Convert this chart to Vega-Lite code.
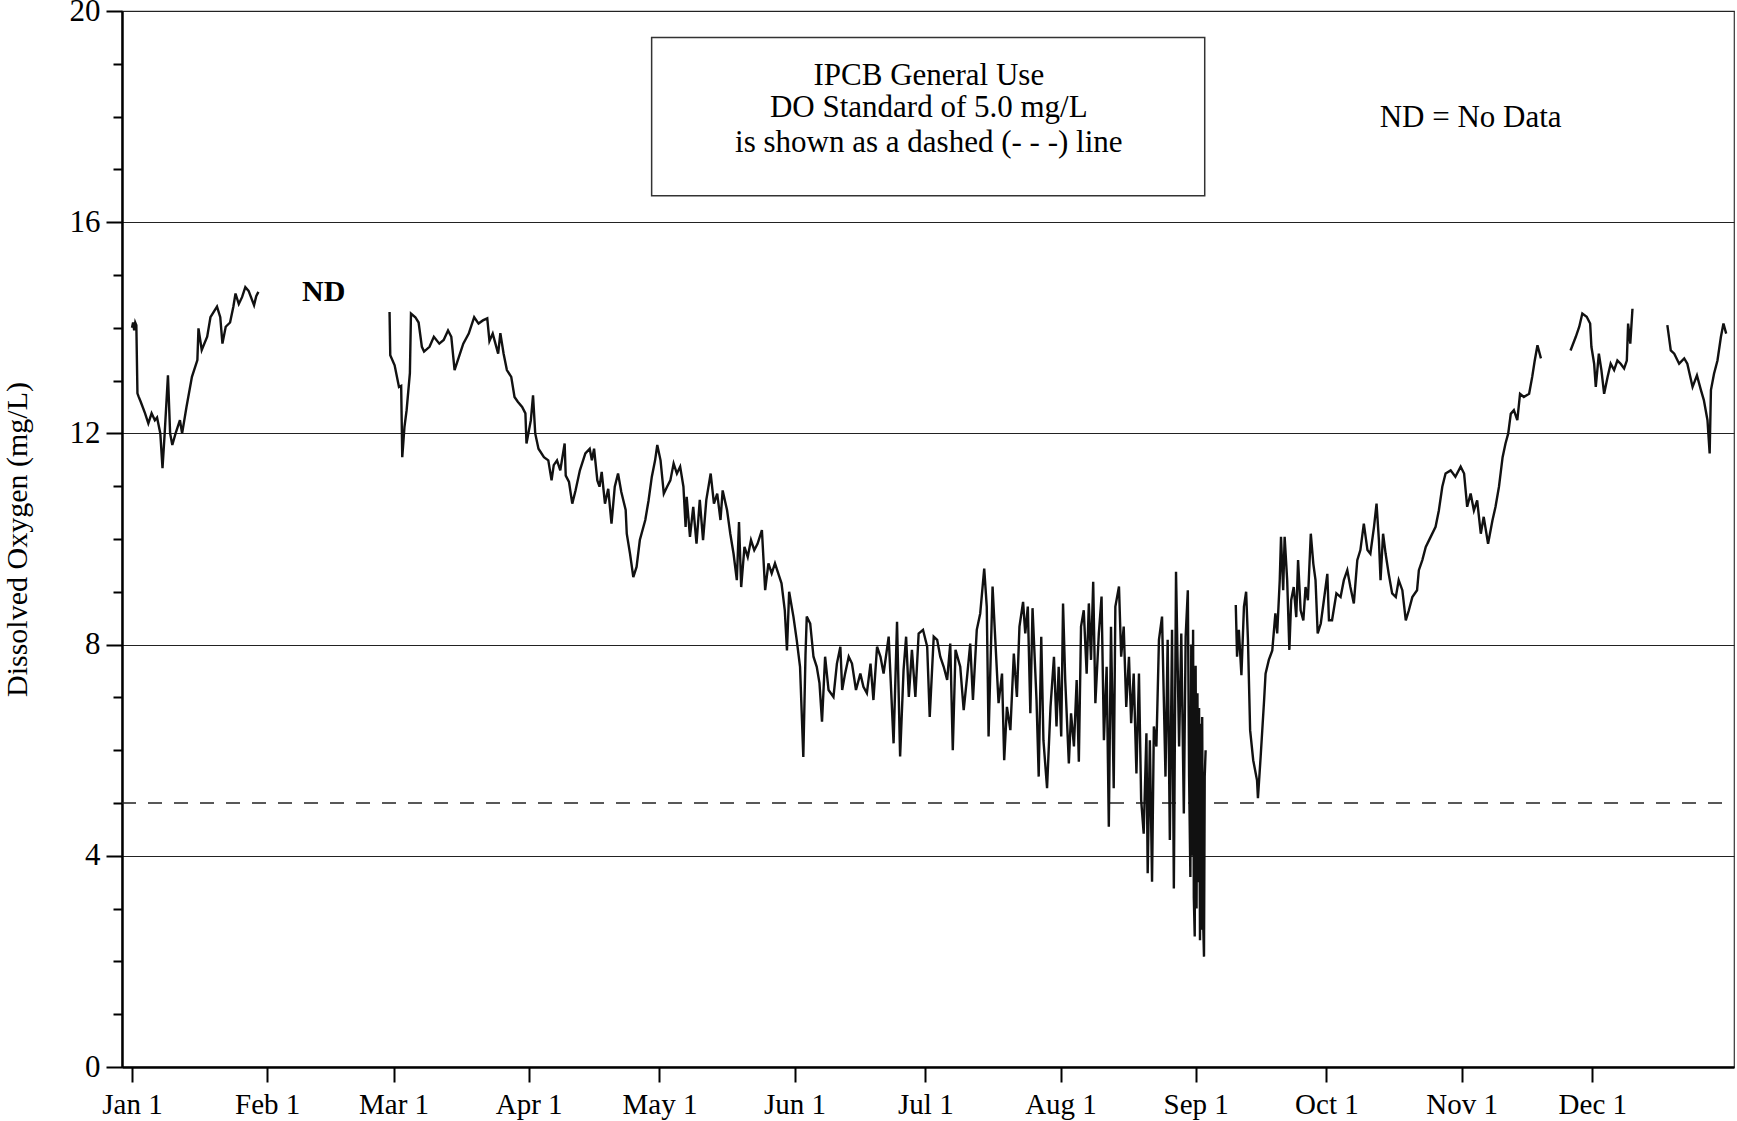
{
  "$schema": "https://vega.github.io/schema/vega-lite/v6.json",
  "width": 1612,
  "height": 1056,
  "autosize": {"type": "none"},
  "padding": {"left": 122, "top": 11, "right": 3, "bottom": 54},
  "background": "white",
  "config": {"view": {"stroke": "#333", "strokeWidth": 1.2}},
  "datasets": {
    "series": [
      {"t":"2008-01-01T00:00Z","v":14.0,"s":1},{"t":"2008-01-01T06:00Z","v":14.1,"s":1},{"t":"2008-01-01T12:00Z","v":13.95,"s":1},{"t":"2008-01-01T18:00Z","v":14.1,"s":1},{"t":"2008-01-02T00:00Z","v":14.05,"s":1},{"t":"2008-01-02T06:00Z","v":12.76,"s":1},{"t":"2008-01-02T12:00Z","v":12.7,"s":1},{"t":"2008-01-03T00:00Z","v":12.6,"s":1},{"t":"2008-01-04T00:00Z","v":12.38,"s":1},{"t":"2008-01-04T18:00Z","v":12.19,"s":1},{"t":"2008-01-05T12:00Z","v":12.38,"s":1},{"t":"2008-01-06T06:00Z","v":12.25,"s":1},{"t":"2008-01-06T18:00Z","v":12.3,"s":1},{"t":"2008-01-07T12:00Z","v":12.0,"s":1},{"t":"2008-01-08T00:00Z","v":11.34,"s":1},{"t":"2008-01-08T12:00Z","v":12.0,"s":1},{"t":"2008-01-09T06:00Z","v":13.1,"s":1},{"t":"2008-01-09T18:00Z","v":12.0,"s":1},{"t":"2008-01-10T06:00Z","v":11.78,"s":1},{"t":"2008-01-11T00:00Z","v":12.0,"s":1},{"t":"2008-01-12T00:00Z","v":12.25,"s":1},{"t":"2008-01-12T12:00Z","v":12.0,"s":1},{"t":"2008-01-13T12:00Z","v":12.5,"s":1},{"t":"2008-01-14T18:00Z","v":13.07,"s":1},{"t":"2008-01-16T00:00Z","v":13.39,"s":1},{"t":"2008-01-16T06:00Z","v":13.99,"s":1},{"t":"2008-01-17T00:00Z","v":13.58,"s":1},{"t":"2008-01-18T06:00Z","v":13.83,"s":1},{"t":"2008-01-19T00:00Z","v":14.2,"s":1},{"t":"2008-01-19T12:00Z","v":14.27,"s":1},{"t":"2008-01-20T12:00Z","v":14.4,"s":1},{"t":"2008-01-21T06:00Z","v":14.2,"s":1},{"t":"2008-01-21T18:00Z","v":13.7,"s":1},{"t":"2008-01-22T12:00Z","v":14.02,"s":1},{"t":"2008-01-23T12:00Z","v":14.1,"s":1},{"t":"2008-01-24T06:00Z","v":14.4,"s":1},{"t":"2008-01-24T18:00Z","v":14.65,"s":1},{"t":"2008-01-25T12:00Z","v":14.45,"s":1},{"t":"2008-01-26T06:00Z","v":14.58,"s":1},{"t":"2008-01-27T00:00Z","v":14.77,"s":1},{"t":"2008-01-27T18:00Z","v":14.7,"s":1},{"t":"2008-01-29T00:00Z","v":14.43,"s":1},{"t":"2008-01-29T12:00Z","v":14.6,"s":1},{"t":"2008-01-30T00:00Z","v":14.68,"s":1},

      {"t":"2008-02-29T02:00Z","v":14.3,"s":2},{"t":"2008-02-29T06:00Z","v":13.48,"s":2},{"t":"2008-03-01T06:00Z","v":13.29,"s":2},{"t":"2008-03-02T06:00Z","v":12.88,"s":2},{"t":"2008-03-02T18:00Z","v":12.9,"s":2},{"t":"2008-03-03T00:00Z","v":11.55,"s":2},{"t":"2008-03-03T12:00Z","v":12.12,"s":2},{"t":"2008-03-04T00:00Z","v":12.44,"s":2},{"t":"2008-03-04T18:00Z","v":13.14,"s":2},{"t":"2008-03-05T00:00Z","v":14.27,"s":2},{"t":"2008-03-06T00:00Z","v":14.2,"s":2},{"t":"2008-03-06T18:00Z","v":14.1,"s":2},{"t":"2008-03-07T12:00Z","v":13.64,"s":2},{"t":"2008-03-08T00:00Z","v":13.55,"s":2},{"t":"2008-03-09T06:00Z","v":13.64,"s":2},{"t":"2008-03-10T06:00Z","v":13.83,"s":2},{"t":"2008-03-11T12:00Z","v":13.7,"s":2},{"t":"2008-03-12T12:00Z","v":13.77,"s":2},{"t":"2008-03-13T12:00Z","v":13.95,"s":2},{"t":"2008-03-14T06:00Z","v":13.83,"s":2},{"t":"2008-03-15T00:00Z","v":13.2,"s":2},{"t":"2008-03-16T00:00Z","v":13.45,"s":2},{"t":"2008-03-17T00:00Z","v":13.7,"s":2},{"t":"2008-03-18T06:00Z","v":13.89,"s":2},{"t":"2008-03-19T12:00Z","v":14.2,"s":2},{"t":"2008-03-20T12:00Z","v":14.08,"s":2},{"t":"2008-03-21T12:00Z","v":14.14,"s":2},{"t":"2008-03-22T12:00Z","v":14.18,"s":2},{"t":"2008-03-23T00:00Z","v":13.75,"s":2},{"t":"2008-03-23T18:00Z","v":13.89,"s":2},{"t":"2008-03-25T00:00Z","v":13.51,"s":2},{"t":"2008-03-25T12:00Z","v":13.9,"s":2},{"t":"2008-03-26T06:00Z","v":13.51,"s":2},{"t":"2008-03-27T00:00Z","v":13.2,"s":2},{"t":"2008-03-28T00:00Z","v":13.07,"s":2},{"t":"2008-03-28T18:00Z","v":12.69,"s":2},{"t":"2008-03-29T12:00Z","v":12.6,"s":2},{"t":"2008-03-30T12:00Z","v":12.5,"s":2},{"t":"2008-03-31T06:00Z","v":12.38,"s":2},{"t":"2008-03-31T12:00Z","v":11.81,"s":2},{"t":"2008-04-01T12:00Z","v":12.25,"s":2},{"t":"2008-04-02T00:00Z","v":12.72,"s":2},{"t":"2008-04-02T12:00Z","v":12.0,"s":2},{"t":"2008-04-03T06:00Z","v":11.71,"s":2},{"t":"2008-04-04T12:00Z","v":11.55,"s":2},{"t":"2008-04-05T12:00Z","v":11.49,"s":2},{"t":"2008-04-06T06:00Z","v":11.11,"s":2},{"t":"2008-04-06T18:00Z","v":11.4,"s":2},{"t":"2008-04-07T12:00Z","v":11.49,"s":2},{"t":"2008-04-08T06:00Z","v":11.3,"s":2},{"t":"2008-04-09T06:00Z","v":11.81,"s":2},{"t":"2008-04-09T12:00Z","v":11.2,"s":2},{"t":"2008-04-10T06:00Z","v":11.08,"s":2},{"t":"2008-04-11T00:00Z","v":10.67,"s":2},{"t":"2008-04-11T18:00Z","v":10.92,"s":2},{"t":"2008-04-12T18:00Z","v":11.3,"s":2},{"t":"2008-04-14T00:00Z","v":11.62,"s":2},{"t":"2008-04-15T00:00Z","v":11.71,"s":2},{"t":"2008-04-15T12:00Z","v":11.49,"s":2},{"t":"2008-04-16T00:00Z","v":11.71,"s":2},{"t":"2008-04-16T18:00Z","v":11.11,"s":2},{"t":"2008-04-17T06:00Z","v":10.99,"s":2},{"t":"2008-04-17T18:00Z","v":11.27,"s":2},{"t":"2008-04-18T12:00Z","v":10.67,"s":2},{"t":"2008-04-19T06:00Z","v":10.95,"s":2},{"t":"2008-04-20T00:00Z","v":10.29,"s":2},{"t":"2008-04-20T18:00Z","v":10.99,"s":2},{"t":"2008-04-21T12:00Z","v":11.24,"s":2},{"t":"2008-04-22T06:00Z","v":10.89,"s":2},{"t":"2008-04-23T06:00Z","v":10.55,"s":2},{"t":"2008-04-23T12:00Z","v":10.1,"s":2},{"t":"2008-04-24T06:00Z","v":9.72,"s":2},{"t":"2008-04-25T00:00Z","v":9.28,"s":2},{"t":"2008-04-25T18:00Z","v":9.47,"s":2},{"t":"2008-04-26T12:00Z","v":9.98,"s":2},{"t":"2008-04-27T18:00Z","v":10.36,"s":2},{"t":"2008-04-28T12:00Z","v":10.73,"s":2},{"t":"2008-04-29T06:00Z","v":11.18,"s":2},{"t":"2008-04-30T00:00Z","v":11.49,"s":2},{"t":"2008-04-30T12:00Z","v":11.78,"s":2},{"t":"2008-05-01T06:00Z","v":11.49,"s":2},{"t":"2008-05-02T00:00Z","v":10.86,"s":2},{"t":"2008-05-02T18:00Z","v":10.99,"s":2},{"t":"2008-05-03T12:00Z","v":11.11,"s":2},{"t":"2008-05-04T06:00Z","v":11.43,"s":2},{"t":"2008-05-05T00:00Z","v":11.24,"s":2},{"t":"2008-05-05T18:00Z","v":11.37,"s":2},{"t":"2008-05-06T12:00Z","v":10.99,"s":2},{"t":"2008-05-07T00:00Z","v":10.23,"s":2},{"t":"2008-05-07T06:00Z","v":10.8,"s":2},{"t":"2008-05-08T00:00Z","v":10.04,"s":2},{"t":"2008-05-08T18:00Z","v":10.61,"s":2},{"t":"2008-05-09T12:00Z","v":9.91,"s":2},{"t":"2008-05-10T06:00Z","v":10.74,"s":2},{"t":"2008-05-11T00:00Z","v":9.98,"s":2},{"t":"2008-05-11T18:00Z","v":10.74,"s":2},{"t":"2008-05-12T18:00Z","v":11.24,"s":2},{"t":"2008-05-13T12:00Z","v":10.67,"s":2},{"t":"2008-05-14T06:00Z","v":10.86,"s":2},{"t":"2008-05-15T00:00Z","v":10.36,"s":2},{"t":"2008-05-15T12:00Z","v":10.92,"s":2},{"t":"2008-05-16T12:00Z","v":10.55,"s":2},{"t":"2008-05-17T06:00Z","v":10.1,"s":2},{"t":"2008-05-18T00:00Z","v":9.72,"s":2},{"t":"2008-05-18T18:00Z","v":9.22,"s":2},{"t":"2008-05-19T06:00Z","v":10.32,"s":2},{"t":"2008-05-19T18:00Z","v":9.09,"s":2},{"t":"2008-05-20T12:00Z","v":9.85,"s":2},{"t":"2008-05-21T06:00Z","v":9.66,"s":2},{"t":"2008-05-22T00:00Z","v":9.98,"s":2},{"t":"2008-05-22T18:00Z","v":9.79,"s":2},{"t":"2008-05-23T12:00Z","v":9.91,"s":2},{"t":"2008-05-24T12:00Z","v":10.17,"s":2},{"t":"2008-05-25T06:00Z","v":9.03,"s":2},{"t":"2008-05-26T00:00Z","v":9.54,"s":2},{"t":"2008-05-26T18:00Z","v":9.35,"s":2},{"t":"2008-05-27T12:00Z","v":9.54,"s":2},{"t":"2008-05-28T06:00Z","v":9.35,"s":2},{"t":"2008-05-29T00:00Z","v":9.16,"s":2},{"t":"2008-05-29T18:00Z","v":8.65,"s":2},{"t":"2008-05-30T06:00Z","v":7.89,"s":2},{"t":"2008-05-30T18:00Z","v":9.0,"s":2},{"t":"2008-05-31T18:00Z","v":8.52,"s":2},{"t":"2008-06-01T12:00Z","v":8.08,"s":2},{"t":"2008-06-02T06:00Z","v":7.58,"s":2},{"t":"2008-06-03T00:00Z","v":5.87,"s":2},{"t":"2008-06-03T12:00Z","v":7.8,"s":2},{"t":"2008-06-03T19:00Z","v":8.53,"s":2},{"t":"2008-06-04T14:00Z","v":8.4,"s":2},{"t":"2008-06-05T08:00Z","v":7.77,"s":2},{"t":"2008-06-06T02:00Z","v":7.58,"s":2},{"t":"2008-06-06T17:00Z","v":7.27,"s":2},{"t":"2008-06-07T07:00Z","v":6.54,"s":2},{"t":"2008-06-08T00:00Z","v":7.77,"s":2},{"t":"2008-06-08T19:00Z","v":7.14,"s":2},{"t":"2008-06-09T22:00Z","v":7.01,"s":2},{"t":"2008-06-10T17:00Z","v":7.64,"s":2},{"t":"2008-06-11T12:00Z","v":7.96,"s":2},{"t":"2008-06-11T22:00Z","v":7.14,"s":2},{"t":"2008-06-12T14:00Z","v":7.45,"s":2},{"t":"2008-06-13T10:00Z","v":7.77,"s":2},{"t":"2008-06-14T04:00Z","v":7.64,"s":2},{"t":"2008-06-15T02:00Z","v":7.14,"s":2},{"t":"2008-06-16T02:00Z","v":7.45,"s":2},{"t":"2008-06-16T19:00Z","v":7.2,"s":2},{"t":"2008-06-17T14:00Z","v":7.08,"s":2},{"t":"2008-06-18T10:00Z","v":7.64,"s":2},{"t":"2008-06-19T02:00Z","v":6.95,"s":2},{"t":"2008-06-19T22:00Z","v":7.96,"s":2},{"t":"2008-06-20T17:00Z","v":7.77,"s":2},{"t":"2008-06-21T10:00Z","v":7.45,"s":2},{"t":"2008-06-22T14:00Z","v":8.15,"s":2},{"t":"2008-06-23T17:00Z","v":6.13,"s":2},{"t":"2008-06-24T12:00Z","v":8.43,"s":2},{"t":"2008-06-25T05:00Z","v":5.88,"s":2},{"t":"2008-06-26T00:00Z","v":7.52,"s":2},{"t":"2008-06-26T14:00Z","v":8.15,"s":2},{"t":"2008-06-27T05:00Z","v":7.01,"s":2},{"t":"2008-06-27T22:00Z","v":7.9,"s":2},{"t":"2008-06-28T17:00Z","v":7.01,"s":2},{"t":"2008-06-29T11:00Z","v":8.21,"s":2},{"t":"2008-06-30T11:00Z","v":8.28,"s":2},{"t":"2008-07-01T10:00Z","v":7.96,"s":2},{"t":"2008-07-02T00:00Z","v":6.63,"s":2},{"t":"2008-07-02T22:00Z","v":8.15,"s":2},{"t":"2008-07-03T17:00Z","v":8.09,"s":2},{"t":"2008-07-04T10:00Z","v":7.77,"s":2},{"t":"2008-07-05T05:00Z","v":7.58,"s":2},{"t":"2008-07-06T00:00Z","v":7.33,"s":2},{"t":"2008-07-06T17:00Z","v":8.02,"s":2},{"t":"2008-07-07T07:00Z","v":6.0,"s":2},{"t":"2008-07-07T22:00Z","v":7.9,"s":2},{"t":"2008-07-09T00:00Z","v":7.58,"s":2},{"t":"2008-07-09T19:00Z","v":6.76,"s":2},{"t":"2008-07-10T12:00Z","v":7.33,"s":2},{"t":"2008-07-11T07:00Z","v":8.02,"s":2},{"t":"2008-07-11T22:00Z","v":6.95,"s":2},{"t":"2008-07-12T19:00Z","v":8.28,"s":2},{"t":"2008-07-13T14:00Z","v":8.59,"s":2},{"t":"2008-07-14T12:00Z","v":9.44,"s":2},{"t":"2008-07-15T02:00Z","v":8.72,"s":2},{"t":"2008-07-15T12:00Z","v":6.26,"s":2},{"t":"2008-07-16T10:00Z","v":9.1,"s":2},{"t":"2008-07-17T01:00Z","v":8.09,"s":2},{"t":"2008-07-17T19:00Z","v":6.89,"s":2},{"t":"2008-07-18T14:00Z","v":7.45,"s":2},{"t":"2008-07-19T02:00Z","v":5.81,"s":2},{"t":"2008-07-19T17:00Z","v":6.82,"s":2},{"t":"2008-07-20T12:00Z","v":6.38,"s":2},{"t":"2008-07-21T07:00Z","v":7.83,"s":2},{"t":"2008-07-22T00:00Z","v":7.01,"s":2},{"t":"2008-07-22T14:00Z","v":8.34,"s":2},{"t":"2008-07-23T10:00Z","v":8.81,"s":2},{"t":"2008-07-23T22:00Z","v":8.21,"s":2},{"t":"2008-07-24T12:00Z","v":8.72,"s":2},{"t":"2008-07-25T02:00Z","v":6.7,"s":2},{"t":"2008-07-25T14:00Z","v":8.69,"s":2},{"t":"2008-07-26T12:00Z","v":6.95,"s":2},{"t":"2008-07-27T00:00Z","v":5.5,"s":2},{"t":"2008-07-27T14:00Z","v":8.15,"s":2},{"t":"2008-07-28T02:00Z","v":6.19,"s":2},{"t":"2008-07-28T22:00Z","v":5.28,"s":2},{"t":"2008-07-29T17:00Z","v":6.82,"s":2},{"t":"2008-07-30T12:00Z","v":7.77,"s":2},{"t":"2008-07-31T02:00Z","v":6.45,"s":2},{"t":"2008-07-31T14:00Z","v":7.58,"s":2},{"t":"2008-08-01T04:00Z","v":6.26,"s":2},{"t":"2008-08-01T14:00Z","v":8.78,"s":2},{"t":"2008-08-02T02:00Z","v":7.33,"s":2},{"t":"2008-08-02T22:00Z","v":5.75,"s":2},{"t":"2008-08-03T10:00Z","v":6.7,"s":2},{"t":"2008-08-04T02:00Z","v":6.07,"s":2},{"t":"2008-08-04T17:00Z","v":7.33,"s":2},{"t":"2008-08-05T05:00Z","v":5.78,"s":2},{"t":"2008-08-05T17:00Z","v":8.34,"s":2},{"t":"2008-08-06T08:00Z","v":8.65,"s":2},{"t":"2008-08-07T00:00Z","v":7.45,"s":2},{"t":"2008-08-07T12:00Z","v":8.78,"s":2},{"t":"2008-08-08T00:00Z","v":7.71,"s":2},{"t":"2008-08-08T12:00Z","v":9.19,"s":2},{"t":"2008-08-09T00:00Z","v":6.89,"s":2},{"t":"2008-08-09T19:00Z","v":8.21,"s":2},{"t":"2008-08-10T10:00Z","v":8.91,"s":2},{"t":"2008-08-10T23:00Z","v":6.19,"s":2},{"t":"2008-08-11T14:00Z","v":7.58,"s":2},{"t":"2008-08-12T02:00Z","v":4.55,"s":2},{"t":"2008-08-12T14:00Z","v":8.34,"s":2},{"t":"2008-08-13T05:00Z","v":5.28,"s":2},{"t":"2008-08-13T14:00Z","v":8.72,"s":2},{"t":"2008-08-14T10:00Z","v":9.1,"s":2},{"t":"2008-08-14T22:00Z","v":7.77,"s":2},{"t":"2008-08-15T12:00Z","v":8.34,"s":2},{"t":"2008-08-16T02:00Z","v":6.82,"s":2},{"t":"2008-08-16T17:00Z","v":7.77,"s":2},{"t":"2008-08-17T05:00Z","v":6.51,"s":2},{"t":"2008-08-17T19:00Z","v":7.45,"s":2},{"t":"2008-08-18T10:00Z","v":5.56,"s":2},{"t":"2008-08-19T00:00Z","v":7.45,"s":2},{"t":"2008-08-19T12:00Z","v":5.06,"s":2},{"t":"2008-08-20T02:00Z","v":4.42,"s":2},{"t":"2008-08-20T17:00Z","v":6.32,"s":2},{"t":"2008-08-21T00:00Z","v":3.67,"s":2},{"t":"2008-08-21T12:00Z","v":6.19,"s":2},{"t":"2008-08-22T00:00Z","v":3.51,"s":2},{"t":"2008-08-22T10:00Z","v":6.45,"s":2},{"t":"2008-08-23T00:00Z","v":6.07,"s":2},{"t":"2008-08-23T14:00Z","v":8.09,"s":2},{"t":"2008-08-24T07:00Z","v":8.53,"s":2},{"t":"2008-08-25T02:00Z","v":5.5,"s":2},{"t":"2008-08-25T14:00Z","v":8.09,"s":2},{"t":"2008-08-26T02:00Z","v":4.3,"s":2},{"t":"2008-08-26T14:00Z","v":8.28,"s":2},{"t":"2008-08-27T00:00Z","v":3.38,"s":2},{"t":"2008-08-27T12:00Z","v":9.38,"s":2},{"t":"2008-08-28T05:00Z","v":6.07,"s":2},{"t":"2008-08-28T17:00Z","v":8.21,"s":2},{"t":"2008-08-29T07:00Z","v":4.8,"s":2},{"t":"2008-08-29T17:00Z","v":8.15,"s":2},{"t":"2008-08-30T05:00Z","v":9.03,"s":2},{"t":"2008-08-30T12:00Z","v":5.5,"s":2},{"t":"2008-08-30T19:00Z","v":3.6,"s":2},{"t":"2008-08-31T00:00Z","v":8.0,"s":2},{"t":"2008-08-31T05:00Z","v":4.0,"s":2},{"t":"2008-08-31T10:00Z","v":8.28,"s":2},{"t":"2008-08-31T14:00Z","v":3.2,"s":2},{"t":"2008-08-31T19:00Z","v":2.47,"s":2},{"t":"2008-09-01T00:00Z","v":7.6,"s":2},{"t":"2008-09-01T05:00Z","v":3.0,"s":2},{"t":"2008-09-01T10:00Z","v":7.08,"s":2},{"t":"2008-09-01T14:00Z","v":3.5,"s":2},{"t":"2008-09-01T19:00Z","v":6.8,"s":2},{"t":"2008-09-02T00:00Z","v":2.4,"s":2},{"t":"2008-09-02T05:00Z","v":6.5,"s":2},{"t":"2008-09-02T08:00Z","v":2.6,"s":2},{"t":"2008-09-02T12:00Z","v":6.63,"s":2},{"t":"2008-09-02T17:00Z","v":2.8,"s":2},{"t":"2008-09-02T22:00Z","v":2.09,"s":2},{"t":"2008-09-03T02:00Z","v":5.5,"s":2},{"t":"2008-09-03T07:00Z","v":6.0,"s":2},

      {"t":"2008-09-10T05:00Z","v":8.75,"s":3},{"t":"2008-09-10T12:00Z","v":7.77,"s":3},{"t":"2008-09-10T22:00Z","v":8.28,"s":3},{"t":"2008-09-11T12:00Z","v":7.42,"s":3},{"t":"2008-09-12T02:00Z","v":8.72,"s":3},{"t":"2008-09-12T14:00Z","v":9.0,"s":3},{"t":"2008-09-13T00:00Z","v":8.09,"s":3},{"t":"2008-09-13T12:00Z","v":6.38,"s":3},{"t":"2008-09-14T05:00Z","v":5.81,"s":3},{"t":"2008-09-15T02:00Z","v":5.43,"s":3},{"t":"2008-09-15T07:00Z","v":5.09,"s":3},{"t":"2008-09-15T22:00Z","v":5.88,"s":3},{"t":"2008-09-16T17:00Z","v":6.95,"s":3},{"t":"2008-09-17T01:00Z","v":7.45,"s":3},{"t":"2008-09-17T19:00Z","v":7.71,"s":3},{"t":"2008-09-18T14:00Z","v":7.89,"s":3},{"t":"2008-09-19T07:00Z","v":8.59,"s":3},{"t":"2008-09-19T17:00Z","v":8.21,"s":3},{"t":"2008-09-20T07:00Z","v":9.22,"s":3},{"t":"2008-09-20T14:00Z","v":10.04,"s":3},{"t":"2008-09-21T02:00Z","v":9.03,"s":3},{"t":"2008-09-21T10:00Z","v":10.04,"s":3},{"t":"2008-09-22T00:00Z","v":9.22,"s":3},{"t":"2008-09-22T12:00Z","v":7.9,"s":3},{"t":"2008-09-22T22:00Z","v":8.84,"s":3},{"t":"2008-09-23T12:00Z","v":9.09,"s":3},{"t":"2008-09-24T02:00Z","v":8.52,"s":3},{"t":"2008-09-24T12:00Z","v":9.6,"s":3},{"t":"2008-09-25T02:00Z","v":8.65,"s":3},{"t":"2008-09-25T17:00Z","v":8.46,"s":3},{"t":"2008-09-26T05:00Z","v":9.09,"s":3},{"t":"2008-09-26T18:00Z","v":8.84,"s":3},{"t":"2008-09-27T10:00Z","v":10.1,"s":3},{"t":"2008-09-28T00:00Z","v":9.53,"s":3},{"t":"2008-09-28T12:00Z","v":9.22,"s":3},{"t":"2008-09-29T00:00Z","v":8.21,"s":3},{"t":"2008-09-29T17:00Z","v":8.4,"s":3},{"t":"2008-09-30T10:00Z","v":8.84,"s":3},{"t":"2008-10-01T05:00Z","v":9.34,"s":3},{"t":"2008-10-01T14:00Z","v":8.46,"s":3},{"t":"2008-10-02T07:00Z","v":8.46,"s":3},{"t":"2008-10-03T07:00Z","v":8.97,"s":3},{"t":"2008-10-04T06:00Z","v":8.9,"s":3},{"t":"2008-10-05T00:00Z","v":9.22,"s":3},{"t":"2008-10-05T19:00Z","v":9.41,"s":3},{"t":"2008-10-06T12:00Z","v":9.09,"s":3},{"t":"2008-10-07T07:00Z","v":8.78,"s":3},{"t":"2008-10-08T02:00Z","v":9.6,"s":3},{"t":"2008-10-08T19:00Z","v":9.79,"s":3},{"t":"2008-10-09T14:00Z","v":10.29,"s":3},{"t":"2008-10-10T10:00Z","v":9.79,"s":3},{"t":"2008-10-11T02:00Z","v":9.72,"s":3},{"t":"2008-10-11T22:00Z","v":10.23,"s":3},{"t":"2008-10-12T12:00Z","v":10.67,"s":3},{"t":"2008-10-13T01:00Z","v":9.98,"s":3},{"t":"2008-10-13T10:00Z","v":9.22,"s":3},{"t":"2008-10-14T00:00Z","v":10.1,"s":3},{"t":"2008-10-14T14:00Z","v":9.72,"s":3},{"t":"2008-10-15T07:00Z","v":9.34,"s":3},{"t":"2008-10-16T02:00Z","v":8.97,"s":3},{"t":"2008-10-16T22:00Z","v":8.9,"s":3},{"t":"2008-10-17T14:00Z","v":9.22,"s":3},{"t":"2008-10-18T10:00Z","v":9.03,"s":3},{"t":"2008-10-19T05:00Z","v":8.46,"s":3},{"t":"2008-10-19T22:00Z","v":8.65,"s":3},{"t":"2008-10-20T17:00Z","v":8.9,"s":3},{"t":"2008-10-21T19:00Z","v":9.03,"s":3},{"t":"2008-10-22T05:00Z","v":9.41,"s":3},{"t":"2008-10-23T00:00Z","v":9.6,"s":3},{"t":"2008-10-23T19:00Z","v":9.85,"s":3},{"t":"2008-10-24T22:00Z","v":10.04,"s":3},{"t":"2008-10-26T01:00Z","v":10.23,"s":3},{"t":"2008-10-26T19:00Z","v":10.54,"s":3},{"t":"2008-10-27T14:00Z","v":10.99,"s":3},{"t":"2008-10-28T08:00Z","v":11.24,"s":3},{"t":"2008-10-29T12:00Z","v":11.3,"s":3},{"t":"2008-10-30T14:00Z","v":11.18,"s":3},{"t":"2008-10-31T19:00Z","v":11.37,"s":3},{"t":"2008-11-01T14:00Z","v":11.24,"s":3},{"t":"2008-11-02T07:00Z","v":10.61,"s":3},{"t":"2008-11-03T02:00Z","v":10.86,"s":3},{"t":"2008-11-03T20:00Z","v":10.54,"s":3},{"t":"2008-11-04T14:00Z","v":10.73,"s":3},{"t":"2008-11-05T10:00Z","v":10.1,"s":3},{"t":"2008-11-06T02:00Z","v":10.42,"s":3},{"t":"2008-11-07T02:00Z","v":9.91,"s":3},{"t":"2008-11-08T02:00Z","v":10.35,"s":3},{"t":"2008-11-08T19:00Z","v":10.61,"s":3},{"t":"2008-11-09T14:00Z","v":10.99,"s":3},{"t":"2008-11-10T10:00Z","v":11.55,"s":3},{"t":"2008-11-11T02:00Z","v":11.81,"s":3},{"t":"2008-11-11T17:00Z","v":12.0,"s":3},{"t":"2008-11-12T07:00Z","v":12.37,"s":3},{"t":"2008-11-13T00:00Z","v":12.44,"s":3},{"t":"2008-11-13T19:00Z","v":12.25,"s":3},{"t":"2008-11-14T10:00Z","v":12.75,"s":3},{"t":"2008-11-15T07:00Z","v":12.69,"s":3},{"t":"2008-11-16T12:00Z","v":12.75,"s":3},{"t":"2008-11-17T05:00Z","v":13.07,"s":3},{"t":"2008-11-17T19:00Z","v":13.38,"s":3},{"t":"2008-11-18T10:00Z","v":13.67,"s":3},{"t":"2008-11-19T05:00Z","v":13.42,"s":3},

      {"t":"2008-11-26T00:00Z","v":13.57,"s":4},{"t":"2008-11-27T05:00Z","v":13.83,"s":4},{"t":"2008-11-28T00:00Z","v":14.02,"s":4},{"t":"2008-11-28T17:00Z","v":14.27,"s":4},{"t":"2008-11-29T17:00Z","v":14.21,"s":4},{"t":"2008-11-30T12:00Z","v":14.08,"s":4},{"t":"2008-11-30T19:00Z","v":13.64,"s":4},{"t":"2008-12-01T10:00Z","v":13.32,"s":4},{"t":"2008-12-01T19:00Z","v":12.88,"s":4},{"t":"2008-12-02T12:00Z","v":13.51,"s":4},{"t":"2008-12-03T02:00Z","v":13.2,"s":4},{"t":"2008-12-03T17:00Z","v":12.75,"s":4},{"t":"2008-12-04T12:00Z","v":13.07,"s":4},{"t":"2008-12-05T05:00Z","v":13.32,"s":4},{"t":"2008-12-06T00:00Z","v":13.2,"s":4},{"t":"2008-12-06T18:00Z","v":13.38,"s":4},{"t":"2008-12-07T12:00Z","v":13.32,"s":4},{"t":"2008-12-08T07:00Z","v":13.23,"s":4},{"t":"2008-12-08T22:00Z","v":13.38,"s":4},{"t":"2008-12-09T05:00Z","v":14.08,"s":4},{"t":"2008-12-09T17:00Z","v":13.7,"s":4},{"t":"2008-12-10T05:00Z","v":14.36,"s":4},

      {"t":"2008-12-18T05:00Z","v":14.05,"s":5},{"t":"2008-12-19T00:00Z","v":13.57,"s":5},{"t":"2008-12-19T19:00Z","v":13.51,"s":5},{"t":"2008-12-20T22:00Z","v":13.32,"s":5},{"t":"2008-12-22T02:00Z","v":13.42,"s":5},{"t":"2008-12-22T19:00Z","v":13.32,"s":5},{"t":"2008-12-24T00:00Z","v":12.88,"s":5},{"t":"2008-12-25T00:00Z","v":13.1,"s":5},{"t":"2008-12-25T22:00Z","v":12.82,"s":5},{"t":"2008-12-26T14:00Z","v":12.63,"s":5},{"t":"2008-12-27T10:00Z","v":12.25,"s":5},{"t":"2008-12-27T22:00Z","v":11.62,"s":5},{"t":"2008-12-28T05:00Z","v":12.82,"s":5},{"t":"2008-12-28T22:00Z","v":13.13,"s":5},{"t":"2008-12-29T17:00Z","v":13.38,"s":5},{"t":"2008-12-30T12:00Z","v":13.83,"s":5},{"t":"2008-12-31T02:00Z","v":14.08,"s":5},{"t":"2008-12-31T17:00Z","v":13.89,"s":5}
    ],
    "standard": [{"t": "2007-12-29T17:00Z", "t2": "2009-01-02T12:00Z", "v": 5.0}],
    "box": [{"t": "2008-04-29T05:00Z", "t2": "2008-09-03T02:00Z", "v": 19.5, "v2": 16.5}],
    "boxtext": [
      {"t": "2008-07-01T19:00Z", "v": 18.77, "text": "IPCB General Use"},
      {"t": "2008-07-01T19:00Z", "v": 18.17, "text": "DO Standard of 5.0 mg/L"},
      {"t": "2008-07-01T19:00Z", "v": 17.5, "text": "is shown as a dashed (- - -) line"},
      {"t": "2008-11-03T02:00Z", "v": 17.98, "text": "ND = No Data"}
    ],
    "nd": [{"t": "2008-02-14T00:00Z", "v": 14.68, "text": "ND"}]
  },
  "encoding": {
    "x": {
      "field": "t", "type": "temporal",
      "scale": {"type": "utc", "domain": [{"year": 2007, "month": 12, "date": 29, "hours": 17, "utc": true}, {"year": 2009, "month": 1, "date": 2, "hours": 12, "utc": true}]},
      "axis": {
        "title": null,
        "values": [
          {"year": 2008, "month": 1, "date": 1, "utc": true},
          {"year": 2008, "month": 2, "date": 1, "utc": true},
          {"year": 2008, "month": 3, "date": 1, "utc": true},
          {"year": 2008, "month": 4, "date": 1, "utc": true},
          {"year": 2008, "month": 5, "date": 1, "utc": true},
          {"year": 2008, "month": 6, "date": 1, "utc": true},
          {"year": 2008, "month": 7, "date": 1, "utc": true},
          {"year": 2008, "month": 8, "date": 1, "utc": true},
          {"year": 2008, "month": 9, "date": 1, "utc": true},
          {"year": 2008, "month": 10, "date": 1, "utc": true},
          {"year": 2008, "month": 11, "date": 1, "utc": true},
          {"year": 2008, "month": 12, "date": 1, "utc": true}
        ],
        "format": "%b %-d",
        "grid": false,
        "labelFont": "Liberation Serif", "labelFontSize": 29, "labelColor": "black",
        "labelPadding": 8, "labelOverlap": false, "labelFlush": false,
        "tickSize": 15, "tickWidth": 2, "tickColor": "black",
        "domainColor": "black", "domainWidth": 2.5
      }
    },
    "y": {
      "field": "v", "type": "quantitative",
      "scale": {"domain": [0, 20], "nice": false, "zero": false},
      "axis": {
        "title": "Dissolved Oxygen (mg/L)",
        "titleFont": "Liberation Serif", "titleFontSize": 30, "titleFontWeight": "normal", "titleColor": "black",
        "titlePadding": 37,
        "values": [0,1,2,3,4,5,6,7,8,9,10,11,12,13,14,15,16,17,18,19,20],
        "labelExpr": "datum.value % 4 === 0 ? datum.label : ''",
        "labelFont": "Liberation Serif", "labelFontSize": 31, "labelColor": "black", "labelPadding": 6,
        "tickColor": "black", "tickWidth": 2,
        "tickSize": {"condition": {"test": "datum.value % 4 === 0", "value": 16}, "value": 9},
        "domainColor": "black", "domainWidth": 2.5,
        "grid": true, "gridColor": "#222", "gridWidth": 1.2,
        "gridOpacity": {"condition": {"test": "datum.value % 4 === 0 && datum.value > 0", "value": 1}, "value": 0}
      }
    }
  },
  "layer": [
    {
      "data": {"name": "standard"},
      "mark": {"type": "rule", "stroke": "#222", "strokeWidth": 1.5, "strokeDash": [14, 12]},
      "encoding": {"x2": {"field": "t2"}}
    },
    {
      "data": {"name": "box"},
      "mark": {"type": "rect", "fill": "white", "stroke": "#333", "strokeWidth": 1.5},
      "encoding": {"x2": {"field": "t2"}, "y2": {"field": "v2"}}
    },
    {
      "data": {"name": "boxtext"},
      "mark": {"type": "text", "font": "Liberation Serif", "fontSize": 31, "color": "black", "align": "center", "baseline": "middle"},
      "encoding": {"text": {"field": "text"}}
    },
    {
      "data": {"name": "nd"},
      "mark": {"type": "text", "font": "Liberation Serif", "fontSize": 30, "fontWeight": "bold", "color": "black", "align": "center", "baseline": "middle"},
      "encoding": {"text": {"field": "text"}}
    },
    {
      "data": {"name": "series"},
      "mark": {"type": "line", "stroke": "#111", "strokeWidth": 2.4},
      "encoding": {"detail": {"field": "s", "type": "nominal"}}
    }
  ]
}
